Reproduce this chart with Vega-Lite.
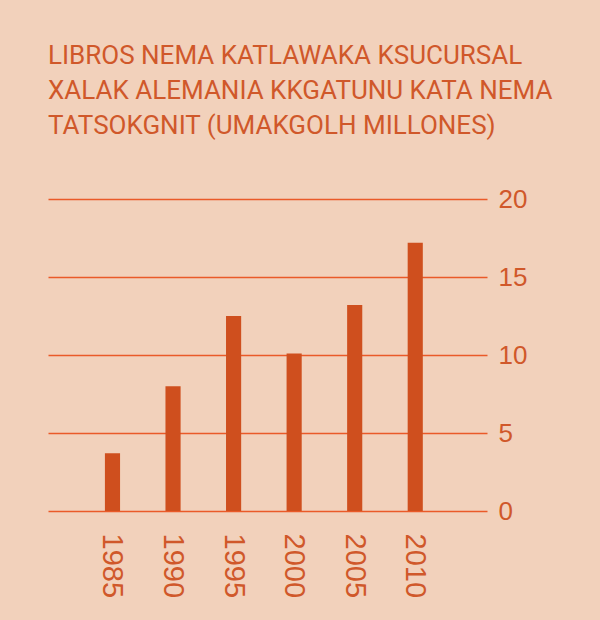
{
  "$schema": "https://vega.github.io/schema/vega-lite/v6.json",
  "background": "#f2d1bb",
  "autosize": "none",
  "padding": {"left": 48, "top": 199, "right": 113, "bottom": 109},
  "title": {
    "text": ["LIBROS NEMA KATLAWAKA KSUCURSAL", "XALAK ALEMANIA KKGATUNU KATA NEMA", "TATSOKGNIT (UMAKGOLH MILLONES)"],
    "anchor": "start",
    "font": "Roboto",
    "fontSize": 26,
    "fontWeight": "normal",
    "lineHeight": 35,
    "color": "#d0582a",
    "offset": 47
  },
  "width": 439,
  "height": 312,
  "data": {
    "values": [
      {"year": "1985", "libros": 3.7},
      {"year": "1990", "libros": 8.0},
      {"year": "1995", "libros": 12.5},
      {"year": "2000", "libros": 10.1},
      {"year": "2005", "libros": 13.2},
      {"year": "2010", "libros": 17.2}
    ]
  },
  "mark": {"type": "bar", "color": "#cf4f1e"},
  "encoding": {
    "x": {
      "field": "year",
      "type": "ordinal",
      "scale": {"paddingInner": 0.75, "paddingOuter": 1.01, "align": 0.47},
      "axis": {
        "title": null,
        "domain": false,
        "ticks": false,
        "labelAngle": 90,
        "labelPadding": 22,
        "labelFont": "Liberation Sans",
        "labelFontSize": 29,
        "labelColor": "#d0582a"
      }
    },
    "y": {
      "field": "libros",
      "type": "quantitative",
      "scale": {"domain": [0, 20]},
      "axis": {
        "title": null,
        "orient": "right",
        "values": [0, 5, 10, 15, 20],
        "domain": false,
        "ticks": false,
        "grid": true,
        "gridColor": "#ea5a28",
        "gridOpacity": 1,
        "gridWidth": 1.4,
        "labelPadding": 11,
        "labelFont": "Liberation Sans",
        "labelFontSize": 26,
        "labelColor": "#d0582a"
      }
    }
  },
  "config": {
    "view": {"stroke": null}
  }
}
